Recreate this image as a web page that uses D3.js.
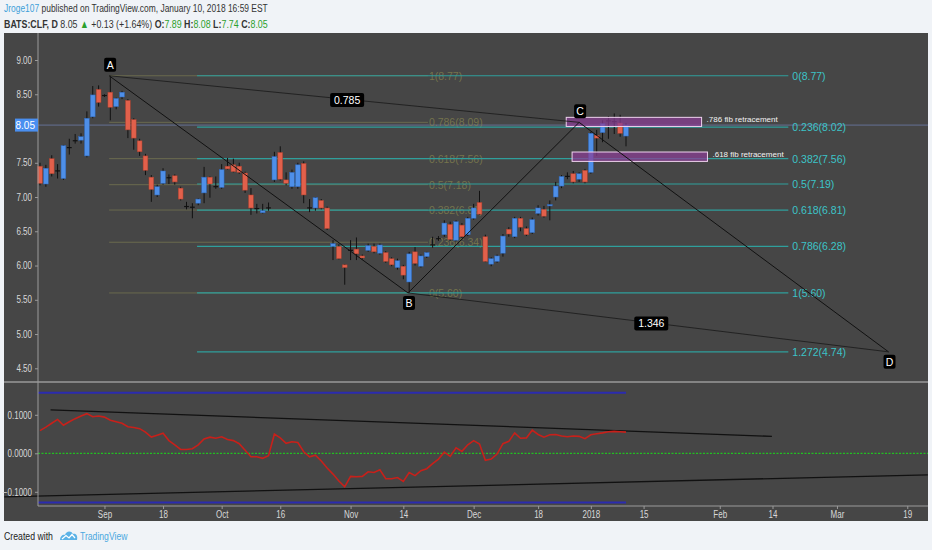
<!DOCTYPE html>
<html lang="en">
<head>
<meta charset="UTF-8">
<title>BATS:CLF, D</title>
<script src="https://d3js.org/d3.v7.min.js"></script>
<style>
 body {margin: 0; padding: 0; background: #f0f3f7;}
 svg text {font-family: "Liberation Sans", Arial, sans-serif;}
 .axis text {fill: #d8d8d8; font-size: 10px;}
 .axis line {stroke: #9a9a9a;}
 .axis path {display: none;}
</style>
</head>
<body>
<svg id="chart" width="932" height="550"></svg>
<script>
// daily candles, 0 = Aug 16 2017 ... 100 = Jan 10 2018
const opens  = [7.45,7.19,7.56,7.38,7.27,7.72,7.83,7.83,7.60,8.17,8.57,8.48,8.53,8.32,8.46,8.41,8.13,7.82,7.60,7.29,
                7.03,7.20,7.29,7.31,7.13,6.87,6.86,6.91,7.06,7.29,7.16,7.14,7.45,7.47,7.45,7.35,7.03,6.84,6.77,6.85,
                7.25,7.65,7.25,7.15,7.15,7.49,6.85,6.84,6.95,6.84,6.28,6.28,6.01,6.23,6.24,6.14,6.22,6.28,6.18,6.19,
                6.10,5.97,5.99,5.76,6.20,5.99,6.13,6.31,6.40,6.45,6.60,6.37,6.59,6.45,6.69,6.92,6.42,6.02,6.06,6.18,
                6.53,6.42,6.69,6.54,6.48,6.76,6.82,6.87,7.00,7.16,7.30,7.34,7.26,7.39,7.36,7.90,7.94,8.12,8.11,8.08,7.89];
const highs  = [7.50,7.47,7.61,7.48,7.76,7.85,7.92,7.93,8.25,8.62,8.63,8.50,8.77,8.45,8.55,8.43,8.15,7.85,7.63,7.32,
                7.18,7.42,7.33,7.33,7.15,6.93,6.91,6.98,7.44,7.30,7.30,7.48,7.57,7.56,7.50,7.37,7.13,6.90,6.90,6.92,
                7.66,7.74,7.36,7.40,7.50,7.52,6.97,7.00,6.97,6.86,6.37,6.31,6.02,6.37,6.41,6.16,6.32,6.32,6.32,6.21,
                6.12,6.10,6.01,6.20,6.27,6.16,6.20,6.42,6.43,6.66,6.64,6.66,6.62,6.71,6.90,7.09,6.45,6.12,6.16,6.46,
                6.56,6.71,6.71,6.57,6.70,6.88,6.87,6.95,7.22,7.32,7.36,7.38,7.36,7.41,7.95,7.98,8.12,8.18,8.22,8.20,8.08];
const lows   = [7.17,7.15,7.30,7.27,7.25,7.62,7.78,7.78,7.58,8.15,8.32,8.46,8.12,8.28,8.43,7.86,7.69,7.60,7.32,6.93,
                7.00,7.18,7.19,7.18,6.95,6.82,6.69,6.88,6.91,6.99,7.12,7.12,7.40,7.36,7.34,7.06,6.74,6.76,6.76,6.80,
                7.22,7.24,7.17,7.12,7.12,6.91,6.78,6.80,6.82,6.52,6.08,6.09,5.72,6.08,6.08,6.09,6.20,6.18,6.16,6.04,
                5.99,5.94,5.80,5.60,6.00,5.97,6.11,6.26,6.36,6.42,6.36,6.35,6.40,6.43,6.67,6.74,6.05,5.99,6.04,6.13,
                6.42,6.40,6.50,6.43,6.46,6.73,6.70,6.66,6.95,7.13,7.26,7.20,7.22,7.20,7.34,7.60,7.80,7.85,7.92,7.88,7.74];
const closes = [7.20,7.42,7.34,7.39,7.75,7.73,7.83,7.88,8.15,8.49,8.38,8.49,8.31,8.44,8.53,7.98,7.86,7.66,7.39,7.11,
                7.15,7.38,7.29,7.22,6.97,6.87,6.86,6.97,7.29,7.19,7.16,7.40,7.41,7.37,7.36,7.10,6.84,6.84,6.80,6.85,
                7.59,7.26,7.20,7.36,7.47,7.03,6.85,6.99,6.84,6.54,6.32,6.10,5.97,6.23,6.17,6.11,6.29,6.20,6.30,6.06,
                6.01,6.07,5.86,6.17,6.03,6.14,6.19,6.31,6.40,6.62,6.38,6.64,6.42,6.69,6.84,6.75,6.06,6.10,6.14,6.43,
                6.46,6.69,6.56,6.45,6.67,6.84,6.72,6.89,7.16,7.30,7.31,7.22,7.34,7.22,7.93,7.86,8.07,8.12,8.11,7.93,8.05];

// lower pane oscillator, one value per bar
const osc = [0.059,0.068,0.078,0.088,0.073,0.082,0.090,0.097,0.103,0.095,0.097,0.094,0.086,0.082,0.078,0.069,0.067,0.064,0.055,0.042,
             0.047,0.052,0.033,0.022,0.010,0.010,0.012,0.022,0.037,0.042,0.039,0.043,0.036,0.033,0.025,0.008,-0.009,-0.009,-0.013,-0.006,
             0.050,0.040,0.026,0.030,0.028,0.004,-0.009,-0.005,-0.020,-0.038,-0.054,-0.072,-0.087,-0.060,-0.061,-0.060,-0.048,-0.050,-0.043,-0.066,
             -0.066,-0.063,-0.073,-0.050,-0.058,-0.045,-0.040,-0.027,-0.015,0.003,-0.008,0.014,0.005,0.022,0.033,0.024,-0.018,-0.015,-0.002,0.025,
             0.031,0.053,0.039,0.040,0.060,0.049,0.042,0.048,0.049,0.045,0.043,0.045,0.044,0.038,0.048,0.051,0.053,0.056,0.057,0.056,0.055];

const tickIdx    = [11, 21, 31, 41, 53, 62, 74, 85, 94, 103, 116, 125, 136, 148];
const tickLabels = ['Sep','18','Oct','16','Nov','14','Dec','18','2018','15','Feb','14','Mar','19'];
const priceTicks = [4.5, 5, 5.5, 6, 6.5, 7, 7.5, 8, 8.5, 9];
const oscTicks   = [-0.1, 0, 0.1];

// fib retracement drawn over the whole move
const fibLevels = ['0','0.236','0.382','0.5','0.618','0.786','1','1.272'];
const fibPrices = [8.77, 8.02, 7.56, 7.19, 6.81, 6.28, 5.60, 4.74];
const fibSpan   = [26.8, 127.7];
// second (faded) fib from A to B
const fib2Levels = ['1','0.786','0.618','0.5','0.382','0.236','0'];
const fib2Prices = [8.77, 8.09, 7.56, 7.18, 6.81, 6.34, 5.60];
const fib2Span   = [11.8, 66.2];

// ABCD pattern points
const abcdNames = ['A','B','C','D'];
const abcdIdx   = [11.8, 62.8, 92, 144.8];
const abcdPrice = [8.77, 5.60, 8.09, 4.74];
const ratioLabels = ['0.785', '1.346'];

// boxes: [startIdx, endIdx, top, bottom]
const boxes = [[89.8, 112.9, 8.163, 8.03], [90.8, 113.9, 7.657, 7.52]];
const boxLabels = ['.786 fib retracement', '.618 fib retracement'];

// lower pane drawings
const oscBands  = [0.157, -0.128];
const oscTrends = [[1.8, 0.113, 124.9, 0.044], [-6.1, -0.113, 151.5, -0.056]];

const lastClose = closes[closes.length - 1];

const svg = d3.select('#chart');
const left = 38, right = 928, panelTop = 33, sepY = 382, bottomY = 506, panelBottom = 521;

const x  = d3.scaleLinear().domain([0, 100]).range([40, 626]);
const yP = d3.scaleLinear().domain([4.5, 9]).range([368.3, 60]);
const yO = d3.scaleLinear().domain([-0.1, 0.1]).range([491.8, 414.8]);

// squeeze a text group horizontally to a target width (the original font is narrow)
function narrow(g, x0, width) {
  const w = g.node().getBBox().width;
  g.attr('transform', `translate(${x0},0) scale(${width / w},1)`);
}

// ---- header ----
const hg1 = svg.append('g');
const h1 = hg1.append('text').attr('x', 0).attr('y', 12).attr('font-size', 11.5);
h1.append('tspan').attr('fill', '#3d9fd9').text('Jroge107');
h1.append('tspan').attr('fill', '#333').text(' published on TradingView.com, January 10, 2018 16:59 EST');
narrow(hg1, 4, 264);

const hg2 = svg.append('g');
const h2 = hg2.append('text').attr('x', 0).attr('y', 28).attr('font-size', 11.5).attr('fill', '#333');
h2.append('tspan').attr('font-weight', 'bold').text('BATS:CLF, D');
h2.append('tspan').text('  8.05 ');
h2.append('tspan').attr('fill', '#2ca02c').text('▲');
h2.append('tspan').text(' +0.13 (+1.64%) ');
[['O:', opens[100]], ['H:', highs[100]], ['L:', lows[100]], ['C:', lastClose]].forEach(([k, v]) => {
  h2.append('tspan').attr('font-weight', 'bold').text(' ' + k);
  h2.append('tspan').attr('fill', '#2ca02c').text(v.toFixed(2));
});
narrow(hg2, 4, 264);

// ---- panel ----
svg.append('rect').attr('x', 4).attr('y', panelTop).attr('width', right - 4)
  .attr('height', panelBottom - panelTop).attr('fill', '#464646');

// price line of last close
svg.append('line').attr('x1', left).attr('x2', right)
  .attr('y1', yP(lastClose)).attr('y2', yP(lastClose))
  .attr('stroke', '#7f93d6').attr('stroke-opacity', 0.55);

// faded fib (A-B)
const f2 = svg.append('g');
f2.selectAll('line').data(fib2Prices).join('line')
  .attr('x1', x(fib2Span[0])).attr('x2', x(fib2Span[1]))
  .attr('y1', d => yP(d)).attr('y2', d => yP(d))
  .attr('stroke', '#6a6a4e').attr('stroke-width', 1);
f2.selectAll('text').data(fib2Prices).join('text')
  .attr('x', x(fib2Span[1]) + 1).attr('y', d => yP(d) + 4)
  .attr('font-size', 10.5).attr('fill', '#85834f').attr('fill-opacity', 0.75)
  .text((d, i) => `${fib2Levels[i]}(${d.toFixed(2)})`);

// main fib
const f1 = svg.append('g');
f1.selectAll('line').data(fibPrices).join('line')
  .attr('x1', x(fibSpan[0])).attr('x2', x(fibSpan[1]))
  .attr('y1', d => yP(d)).attr('y2', d => yP(d))
  .attr('stroke', '#2f9f9c').attr('stroke-width', 1.2);
f1.selectAll('text').data(fibPrices).join('text')
  .attr('x', x(fibSpan[1]) + 4).attr('y', d => yP(d) + 4)
  .attr('font-size', 10.5).attr('fill', '#3cc4c8')
  .text((d, i) => `${fibLevels[i]}(${d.toFixed(2)})`);

// candles
const bars = d3.range(opens.length).map(i => ({i, o: opens[i], h: highs[i], l: lows[i], c: closes[i]}));
const isDoji = d => Math.abs(d.c - d.o) < 0.015;
const cg = svg.append('g');
cg.selectAll('line').data(bars).join('line')
  .attr('x1', d => x(d.i)).attr('x2', d => x(d.i))
  .attr('y1', d => yP(d.h)).attr('y2', d => yP(d.l))
  .attr('stroke', '#111').attr('stroke-width', 1);
cg.selectAll('rect').data(bars).join('rect')
  .attr('x', d => x(d.i) - 2.4).attr('width', 4.8)
  .attr('y', d => yP(Math.max(d.o, d.c)))
  .attr('height', d => Math.max(1.2, Math.abs(yP(d.o) - yP(d.c))))
  .attr('fill', d => isDoji(d) ? '#111' : (d.c > d.o ? '#4e8fe8' : '#e2604b'))
  .attr('stroke', d => isDoji(d) ? 'none' : (d.c > d.o ? '#2f67b8' : '#a8402f'))
  .attr('stroke-width', 0.5);

// boxes
const bg = svg.append('g');
bg.selectAll('rect').data(boxes).join('rect')
  .attr('x', d => x(d[0])).attr('width', d => x(d[1]) - x(d[0]))
  .attr('y', d => yP(d[2])).attr('height', d => yP(d[3]) - yP(d[2]))
  .attr('fill', '#8b3e95').attr('fill-opacity', 0.72)
  .attr('stroke', '#efd3ef').attr('stroke-width', 1);
bg.selectAll('text').data(boxes).join('text')
  .attr('x', d => x(d[1]) + 5).attr('y', d => (yP(d[2]) + yP(d[3])) / 2)
  .attr('font-size', 8).attr('fill', '#f2f2f2')
  .text((d, i) => boxLabels[i]);

// ABCD lines
const pts = abcdNames.map((n, i) => ({n, px: x(abcdIdx[i]), py: yP(abcdPrice[i])}));
const pg = svg.append('g');
pg.append('path')
  .attr('d', d3.line().x(d => d.px).y(d => d.py)(pts))
  .attr('fill', 'none').attr('stroke', '#111').attr('stroke-width', 1);
const diag = [[pts[0], pts[2]], [pts[1], pts[3]]];
pg.selectAll('line.diag').data(diag).join('line').attr('class', 'diag')
  .attr('x1', d => d[0].px).attr('y1', d => d[0].py)
  .attr('x2', d => d[1].px).attr('y2', d => d[1].py)
  .attr('stroke', '#1e1e1e').attr('stroke-width', 0.9);

function tag(g, cx, cy, label, w) {
  g.append('rect').attr('x', cx - w / 2).attr('y', cy - 7).attr('width', w).attr('height', 14)
    .attr('rx', 2).attr('fill', '#000');
  g.append('text').attr('x', cx).attr('y', cy + 4).attr('text-anchor', 'middle')
    .attr('font-size', 10.5).attr('fill', '#fff').text(label);
}
diag.forEach((d, i) => tag(pg, (d[0].px + d[1].px) / 2 + 3, (d[0].py + d[1].py) / 2 + 1, ratioLabels[i], 34));
pts.forEach((p, i) => tag(pg, p.px + 1, p.py + (i % 2 === 0 ? -11 : 10), p.n, 12));

// ---- lower pane ----
const lg = svg.append('g');
lg.selectAll('line.band').data(oscBands).join('line').attr('class', 'band')
  .attr('x1', left).attr('x2', x(100))
  .attr('y1', d => yO(d)).attr('y2', d => yO(d))
  .attr('stroke', '#2b2bb0').attr('stroke-width', 2);
lg.append('line').attr('x1', left).attr('x2', right).attr('y1', yO(0)).attr('y2', yO(0))
  .attr('stroke', '#22c022').attr('stroke-width', 1.2).attr('stroke-dasharray', '2,1.5');
lg.selectAll('line.trend').data(oscTrends).join('line').attr('class', 'trend')
  .attr('x1', d => Math.max(4, x(d[0]))).attr('y1', d => yO(d[1]))
  .attr('x2', d => x(d[2])).attr('y2', d => yO(d[3]))
  .attr('stroke', '#111').attr('stroke-width', 1.3);
lg.append('path').datum(osc)
  .attr('d', d3.line().x((d, i) => x(i)).y(d => yO(d)))
  .attr('fill', 'none').attr('stroke', '#c8201a').attr('stroke-width', 1.6);

// ---- axes ----
// the 8.00 label sits under the last price tag, as in the original
const shownPrice = priceTicks.filter(p => Math.abs(yP(p) - yP(lastClose)) > 8);
svg.append('g').attr('class', 'axis').attr('transform', `translate(${left},0)`)
  .call(d3.axisLeft(yP).tickValues(shownPrice).tickFormat(d3.format('.2f')).tickSize(3).tickPadding(3));
svg.append('g').attr('class', 'axis').attr('transform', `translate(${left},0)`)
  .call(d3.axisLeft(yO).tickValues(oscTicks).tickFormat(d3.format('.4f')).tickSize(3).tickPadding(3));
svg.append('g').attr('class', 'axis').attr('transform', `translate(0,${bottomY})`)
  .call(d3.axisBottom(x).tickValues(tickIdx).tickFormat((d, i) => tickLabels[i]).tickSize(3).tickPadding(2));
svg.selectAll('.axis text').each(function () {
  const w = this.getComputedTextLength();
  d3.select(this).attr('textLength', w * 0.8).attr('lengthAdjust', 'spacingAndGlyphs');
});

// frame lines
svg.append('line').attr('x1', left).attr('x2', left).attr('y1', panelTop).attr('y2', bottomY)
  .attr('stroke', '#9a9a9a');
svg.append('line').attr('x1', 4).attr('x2', right).attr('y1', sepY).attr('y2', sepY)
  .attr('stroke', '#9a9a9a').attr('stroke-width', 1.5);
svg.append('line').attr('x1', left).attr('x2', right).attr('y1', bottomY).attr('y2', bottomY)
  .attr('stroke', '#9a9a9a');

// last price tag
svg.append('rect').attr('x', 15).attr('y', yP(lastClose) - 6.5).attr('width', 23).attr('height', 13)
  .attr('fill', '#4a8ff0');
svg.append('text').attr('x', 35).attr('y', yP(lastClose) + 4).attr('text-anchor', 'end')
  .attr('font-size', 10).attr('fill', '#fff').text(lastClose.toFixed(2));

// ---- footer ----
const fg1 = svg.append('g');
fg1.append('text').attr('x', 0).attr('y', 540).attr('font-size', 11.5).attr('fill', '#222').text('Created with');
narrow(fg1, 4, 49);
const logo = svg.append('g').attr('transform', 'translate(60,530)');
logo.append('path').attr('d', 'M0,10 C0,6 3,4 5,5 C6,1 11,0 13,4 C16,3 18,6 17,10 Z').attr('fill', '#5cb2e6');
logo.append('path').attr('d', 'M2,9 L6,5.5 L9,8 L12,4.5 L15,8').attr('fill', 'none')
  .attr('stroke', '#fff').attr('stroke-width', 1.2);
const fg2 = svg.append('g');
fg2.append('text').attr('x', 0).attr('y', 540).attr('font-size', 11.5).attr('fill', '#4aa8e0').text('TradingView');
narrow(fg2, 80, 48);
</script>
</body>
</html>
